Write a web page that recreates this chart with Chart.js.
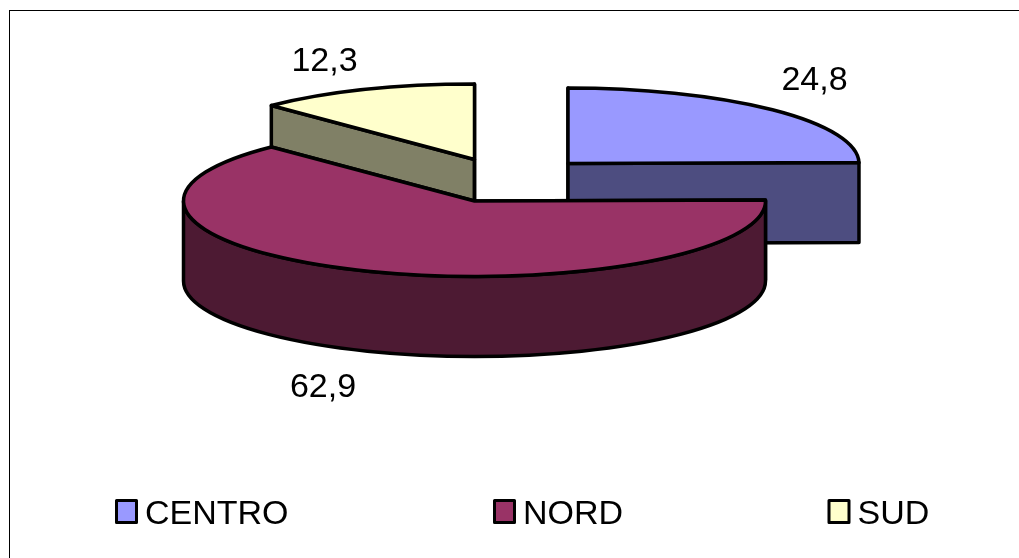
<!DOCTYPE html>
<html>
<head>
<meta charset="utf-8">
<style>
html,body{margin:0;padding:0;background:#fff;overflow:hidden}
#wrap{position:relative;width:1019px;height:558px}
</style>
<script src="https://cdn.jsdelivr.net/npm/chart.js@4"></script>
</head>
<body>
<div id="wrap"><canvas id="c"></canvas></div>
<script>
const categories = ['CENTRO', 'NORD', 'SUD'];
const values = [24.8, 62.9, 12.3];
const topColors = ['#9999FF', '#993366', '#FFFFCC'];
const wallColors = ['#4D4D80', '#4D1A33', '#808066'];

// Layout of the tilted, exploded pie (one entry per slice)
const RX = 291, RY = 75.5, DEPTH = 80;
const apexes = [{x: 568, y: 163.5}, {x: 474.5, y: 201}, {x: 474.5, y: 159.5}];
const labelSpots = [{x: 814.5, y: 90}, {x: 323, y: 396.5}, {x: 324.5, y: 70.5}];
const legendX = [116.5, 494.5, 829];
const LEGEND_Y = 500.5, LEGEND_W = 20, LEGEND_H = 22;
const FONT = '34px "Liberation Sans", Arial, sans-serif';
const LINE = 3.5;
const paintOrder = [2, 0, 1];

const pie3d = {
  id: 'pie3d',
  beforeDatasetDraw(chart, args) {
    const ctx = chart.ctx;
    const arcs = chart.getDatasetMeta(args.index).data;
    ctx.save();
    ctx.lineWidth = LINE;
    ctx.lineJoin = 'round';
    ctx.strokeStyle = '#000';
    paintOrder.forEach(i => {
      const arc = arcs[i], a = apexes[i];
      const s = arc.startAngle, e = arc.endAngle;
      const P = t => ({x: a.x + RX * Math.cos(t), y: a.y + RY * Math.sin(t)});
      const face = t => {
        const p = P(t);
        ctx.beginPath();
        ctx.moveTo(a.x, a.y);
        ctx.lineTo(p.x, p.y);
        ctx.lineTo(p.x, p.y + DEPTH);
        ctx.lineTo(a.x, a.y + DEPTH);
        ctx.closePath();
        ctx.fillStyle = wallColors[i];
        ctx.fill();
        ctx.stroke();
      };
      face(s);
      face(e);
      // curved outer wall: only the part of the rim that faces the viewer
      const from = Math.max(s, 0), to = Math.min(e, Math.PI);
      if (to > from) {
        const p0 = P(from), p1 = P(to);
        ctx.beginPath();
        ctx.ellipse(a.x, a.y, RX, RY, 0, from, to);
        ctx.lineTo(p1.x, p1.y + DEPTH);
        ctx.ellipse(a.x, a.y + DEPTH, RX, RY, 0, to, from, true);
        ctx.lineTo(p0.x, p0.y);
        ctx.closePath();
        ctx.fillStyle = wallColors[i];
        ctx.fill();
        ctx.stroke();
      }
      // top face: the library's own arc element under a tilt transform
      ctx.save();
      ctx.translate(a.x, a.y);
      ctx.scale(RX / arc.outerRadius, RY / arc.outerRadius);
      ctx.translate(-arc.x, -arc.y);
      arc.draw(ctx);
      ctx.restore();
      ctx.beginPath();
      ctx.moveTo(a.x, a.y);
      ctx.ellipse(a.x, a.y, RX, RY, 0, s, e);
      ctx.closePath();
      ctx.stroke();
    });
    ctx.restore();
    return false;
  },
  afterDraw(chart) {
    const ctx = chart.ctx;
    ctx.save();
    // frame: its right and bottom sides lie outside the picture
    ctx.strokeStyle = '#000';
    ctx.lineWidth = 1;
    ctx.strokeRect(9.5, 10.5, 1030, 600);
    // value labels
    ctx.fillStyle = '#000';
    ctx.font = FONT;
    ctx.textBaseline = 'alphabetic';
    ctx.textAlign = 'center';
    values.forEach((v, i) => {
      ctx.fillText(v.toFixed(1).replace('.', ','), labelSpots[i].x, labelSpots[i].y);
    });
    // legend
    ctx.textAlign = 'left';
    categories.forEach((name, i) => {
      ctx.beginPath();
      ctx.rect(legendX[i], LEGEND_Y, LEGEND_W, LEGEND_H);
      ctx.fillStyle = topColors[i];
      ctx.fill();
      ctx.lineWidth = 3;
      ctx.lineJoin = 'round';
      ctx.stroke();
      ctx.fillStyle = '#000';
      ctx.fillText(name, legendX[i] + 28.5, 524);
    });
    ctx.restore();
  }
};

new Chart(document.getElementById('c'), {
  type: 'pie',
  data: {
    labels: categories,
    datasets: [{data: values, backgroundColor: topColors, borderWidth: 0}]
  },
  options: {
    responsive: true,
    maintainAspectRatio: false,
    animation: false,
    plugins: {legend: {display: false}, tooltip: {enabled: false}}
  },
  plugins: [pie3d]
});
</script>
</body>
</html>
